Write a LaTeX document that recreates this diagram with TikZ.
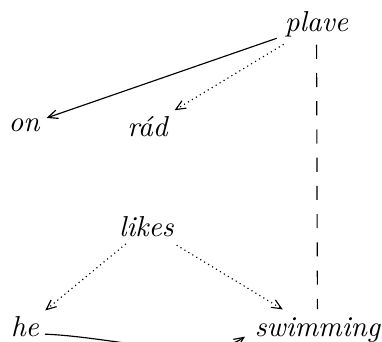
\documentclass[tikz,border=0pt]{standalone}
\usetikzlibrary{arrows.meta,calc}
\begin{document}
\begin{tikzpicture}[x=0.347pt,y=-0.347pt,
  word/.style={font=\itshape, inner sep=0pt, anchor=base},
  tip/.style={-{Straight Barb[length=3.4pt,width=3pt]}},
  lw/.style={line width=0.4pt},
  dotline/.style={lw, dash pattern=on 0.4pt off 1.2pt},
  dashline/.style={lw, dash pattern=on 4.9pt off 4.9pt}]
\useasboundingbox (0,0) rectangle (382,342);
\clip (0,0) rectangle (382,342);
\node[word] (plave) at (316.5,31.7) {plave};
\node[word] (on) at (24,132) {on};
\node[word] (rad) at (147.5,136.5) {rád};
\node[word] (likes) at (146.5,236.7) {likes};
\node[word] (he) at (25,337) {he};
\node[word] (swimming) at (317.5,337) {swimming};
\draw[lw,tip,shorten <=14.6pt,shorten >=8.3pt] (plave.center) -- (on.center);
\draw[dotline,tip,shorten <=13.3pt,shorten >=11pt] (plave.center) -- (rad.center);
\draw[dotline,tip,shorten <=9.3pt,shorten >=9.1pt] (likes.center) -- (he.center);
\draw[dotline,tip,shorten <=12.2pt,shorten >=14.1pt] (likes.center) -- (swimming.center);
\draw[dashline,shorten <=7pt,shorten >=7.4pt] (plave.center) -- (swimming.center);
\draw[lw,tip] ($(he.center)+(20,7)$) .. controls (115,337) and (205,364) .. ($(swimming.center)+(-72.5,6.1)$);
\end{tikzpicture}
\end{document}
